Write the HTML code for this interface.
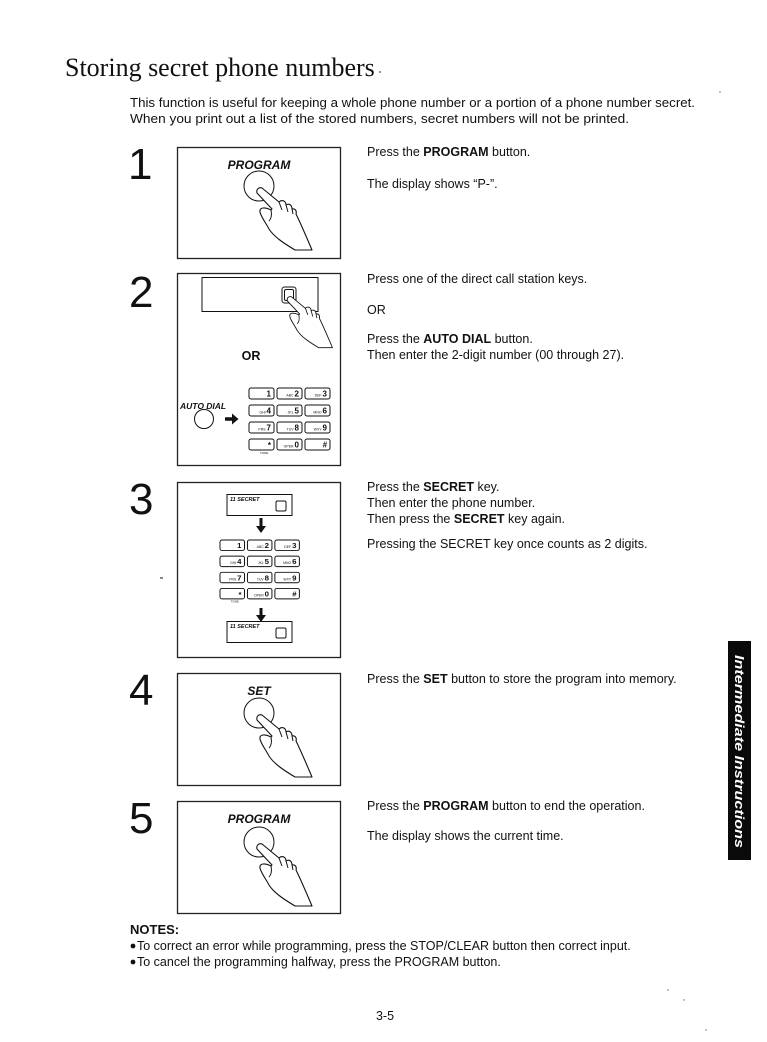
<!DOCTYPE html>
<html><head><meta charset="utf-8"><style>
html,body{margin:0;padding:0;background:#fff;}
svg{display:block;}
text{font-family:"Liberation Sans",Arial,sans-serif;fill:#111;}
.b{font-size:12.5px;}
.num{font-size:44px;}
.lbl{font-size:12px;font-weight:bold;font-style:italic;}
.k{fill:none;stroke:#111;stroke-width:1;}
.box{fill:none;stroke:#222;stroke-width:1.3;}
.hand{fill:#fff;stroke:#111;stroke-width:1.1;stroke-linejoin:round;}
.ln{fill:none;stroke:#111;stroke-width:1;}
.kt{font-size:8px;font-weight:bold;}
.ks{font-size:3.5px;}
</style></head><body>
<svg width="767" height="1042" viewBox="0 0 767 1042" xmlns="http://www.w3.org/2000/svg">
<rect width="767" height="1042" fill="#fff"/>

<!-- Title -->
<text x="65" y="76" style="font-family:'Liberation Serif',serif;font-size:26px;">Storing secret phone numbers</text>
<circle cx="380" cy="72" r="0.9" fill="#444"/>
<circle cx="720" cy="92" r="0.7" fill="#666"/>

<!-- Intro -->
<text class="b" x="130" y="107" textLength="565" lengthAdjust="spacingAndGlyphs" style="font-size:13px;">This function is useful for keeping a whole phone number or a portion of a phone number secret.</text>
<text class="b" x="130" y="123" textLength="499" lengthAdjust="spacingAndGlyphs" style="font-size:13px;">When you print out a list of the stored numbers, secret numbers will not be printed.</text>

<!-- Step numbers -->
<text class="num" x="128" y="179">1</text>
<text class="num" x="129" y="307">2</text>
<text class="num" x="129" y="514">3</text>
<text class="num" x="129" y="705">4</text>
<text class="num" x="129" y="833">5</text>

<!-- Box 1 -->
<rect class="box" x="177.5" y="147.5" width="163" height="111"/>
<text class="lbl" x="259" y="169" text-anchor="middle">PROGRAM</text>
<circle class="ln" cx="259" cy="186" r="15" stroke-width="1.2"/>
<g transform="translate(259,187)">
<path class="hand" d="M3,1 L20,15 C23,12 27,14 27,18 C30,16 33,18 33,22 C36,21 38,24 37,27 C42,37 47,49 53,63 L36,63 C26,57 15,50 10,42 C7,36 2,30 1,25 C0,20 6,20 12,23 L13,22 L-2,6 C-3,2 0,0 3,1 Z"/>
<path class="ln" d="M12,23 C13,28 12,32 10,34 M20,15 L23,23 M27,18 L29,25 M33,22 L34,27"/>
</g>

<!-- Box 2 -->
<rect class="box" x="177.5" y="273.5" width="163" height="192"/>
<rect class="ln" x="202" y="277.5" width="116" height="34" stroke-width="1.2"/>
<rect class="ln" x="282" y="287" width="14" height="16" rx="2.5" stroke-width="1.2"/>
<rect class="ln" x="284.5" y="289.5" width="9" height="11" rx="1.5" stroke-width="0.8"/>
<g transform="translate(289,296) scale(0.82)">
<path class="hand" d="M3,1 L20,15 C23,12 27,14 27,18 C30,16 33,18 33,22 C36,21 38,24 37,27 C42,37 47,49 53,63 L36,63 C26,57 15,50 10,42 C7,36 2,30 1,25 C0,20 6,20 12,23 L13,22 L-2,6 C-3,2 0,0 3,1 Z"/>
<path class="ln" d="M12,23 C13,28 12,32 10,34 M20,15 L23,23 M27,18 L29,25 M33,22 L34,27"/>
</g>
<text x="251" y="360" text-anchor="middle" style="font-size:12.5px;font-weight:bold;">OR</text>
<text x="180" y="409" style="font-size:8.5px;font-weight:bold;font-style:italic;">AUTO DIAL</text>
<circle class="ln" cx="204" cy="419" r="9.5" stroke-width="1.2"/>
<path d="M225,417.3 L232,417.3 L232,413.5 L238.5,419 L232,424.5 L232,420.7 L225,420.7 Z" fill="#111"/>
<g transform="translate(249,388)">
<rect class="k" x="0" y="0" width="25" height="11" rx="2"/>
<rect class="k" x="28" y="0" width="25" height="11" rx="2"/>
<rect class="k" x="56" y="0" width="25" height="11" rx="2"/>
<rect class="k" x="0" y="17" width="25" height="11" rx="2"/>
<rect class="k" x="28" y="17" width="25" height="11" rx="2"/>
<rect class="k" x="56" y="17" width="25" height="11" rx="2"/>
<rect class="k" x="0" y="34" width="25" height="11" rx="2"/>
<rect class="k" x="28" y="34" width="25" height="11" rx="2"/>
<rect class="k" x="56" y="34" width="25" height="11" rx="2"/>
<rect class="k" x="0" y="51" width="25" height="11" rx="2"/>
<rect class="k" x="28" y="51" width="25" height="11" rx="2"/>
<rect class="k" x="56" y="51" width="25" height="11" rx="2"/>
<text x="22" y="8.5" text-anchor="end" class="kt">1</text>
<text x="50" y="8.5" text-anchor="end"><tspan class="ks">ABC </tspan><tspan class="kt">2</tspan></text>
<text x="78" y="8.5" text-anchor="end"><tspan class="ks">DEF </tspan><tspan class="kt">3</tspan></text>
<text x="22" y="25.5" text-anchor="end"><tspan class="ks">GHI </tspan><tspan class="kt">4</tspan></text>
<text x="50" y="25.5" text-anchor="end"><tspan class="ks">JKL </tspan><tspan class="kt">5</tspan></text>
<text x="78" y="25.5" text-anchor="end"><tspan class="ks">MNO </tspan><tspan class="kt">6</tspan></text>
<text x="22" y="42.5" text-anchor="end"><tspan class="ks">PRS </tspan><tspan class="kt">7</tspan></text>
<text x="50" y="42.5" text-anchor="end"><tspan class="ks">TUV </tspan><tspan class="kt">8</tspan></text>
<text x="78" y="42.5" text-anchor="end"><tspan class="ks">WXY </tspan><tspan class="kt">9</tspan></text>
<text x="22" y="60" text-anchor="end" class="kt">*</text>
<text x="50" y="59.5" text-anchor="end"><tspan class="ks">OPER </tspan><tspan class="kt">0</tspan></text>
<text x="78" y="59.5" text-anchor="end" class="kt" font-style="italic">#</text>
<text x="11" y="66" style="font-size:3px;">TONE</text>
</g>

<!-- Box 3 -->
<rect class="box" x="177.5" y="482.5" width="163" height="175"/>
<rect class="ln" x="227" y="494.5" width="65" height="21" stroke-width="1.2"/>
<text x="230" y="501" style="font-size:5.5px;font-weight:bold;font-style:italic;">11  SECRET</text>
<rect class="ln" x="276" y="501" width="10" height="10" rx="1.5" stroke-width="1.2"/>
<path d="M259.5,518 L262.5,518 L262.5,526 L266,526 L261,533 L256,526 L259.5,526 Z" fill="#111"/>
<g transform="translate(220,540) scale(0.98,0.95)">
<rect class="k" x="0" y="0" width="25" height="11" rx="2"/>
<rect class="k" x="28" y="0" width="25" height="11" rx="2"/>
<rect class="k" x="56" y="0" width="25" height="11" rx="2"/>
<rect class="k" x="0" y="17" width="25" height="11" rx="2"/>
<rect class="k" x="28" y="17" width="25" height="11" rx="2"/>
<rect class="k" x="56" y="17" width="25" height="11" rx="2"/>
<rect class="k" x="0" y="34" width="25" height="11" rx="2"/>
<rect class="k" x="28" y="34" width="25" height="11" rx="2"/>
<rect class="k" x="56" y="34" width="25" height="11" rx="2"/>
<rect class="k" x="0" y="51" width="25" height="11" rx="2"/>
<rect class="k" x="28" y="51" width="25" height="11" rx="2"/>
<rect class="k" x="56" y="51" width="25" height="11" rx="2"/>
<text x="22" y="8.5" text-anchor="end" class="kt">1</text>
<text x="50" y="8.5" text-anchor="end"><tspan class="ks">ABC </tspan><tspan class="kt">2</tspan></text>
<text x="78" y="8.5" text-anchor="end"><tspan class="ks">DEF </tspan><tspan class="kt">3</tspan></text>
<text x="22" y="25.5" text-anchor="end"><tspan class="ks">GHI </tspan><tspan class="kt">4</tspan></text>
<text x="50" y="25.5" text-anchor="end"><tspan class="ks">JKL </tspan><tspan class="kt">5</tspan></text>
<text x="78" y="25.5" text-anchor="end"><tspan class="ks">MNO </tspan><tspan class="kt">6</tspan></text>
<text x="22" y="42.5" text-anchor="end"><tspan class="ks">PRS </tspan><tspan class="kt">7</tspan></text>
<text x="50" y="42.5" text-anchor="end"><tspan class="ks">TUV </tspan><tspan class="kt">8</tspan></text>
<text x="78" y="42.5" text-anchor="end"><tspan class="ks">WXY </tspan><tspan class="kt">9</tspan></text>
<text x="22" y="60" text-anchor="end" class="kt">*</text>
<text x="50" y="59.5" text-anchor="end"><tspan class="ks">OPER </tspan><tspan class="kt">0</tspan></text>
<text x="78" y="59.5" text-anchor="end" class="kt" font-style="italic">#</text>
<text x="11" y="66" style="font-size:3px;">TONE</text>
</g>
<path d="M259.5,608 L262.5,608 L262.5,615 L266,615 L261,622 L256,615 L259.5,615 Z" fill="#111"/>
<rect class="ln" x="227" y="621.5" width="65" height="21" stroke-width="1.2"/>
<text x="230" y="628" style="font-size:5.5px;font-weight:bold;font-style:italic;">11  SECRET</text>
<rect class="ln" x="276" y="628" width="10" height="10" rx="1.5" stroke-width="1.2"/>
<path class="ln" d="M160,578 L163,578" stroke="#888"/>

<!-- Box 4 -->
<rect class="box" x="177.5" y="673.5" width="163" height="112"/>
<text class="lbl" x="259" y="695" text-anchor="middle">SET</text>
<circle class="ln" cx="259" cy="713" r="15" stroke-width="1.2"/>
<g transform="translate(259,714)">
<path class="hand" d="M3,1 L20,15 C23,12 27,14 27,18 C30,16 33,18 33,22 C36,21 38,24 37,27 C42,37 47,49 53,63 L36,63 C26,57 15,50 10,42 C7,36 2,30 1,25 C0,20 6,20 12,23 L13,22 L-2,6 C-3,2 0,0 3,1 Z"/>
<path class="ln" d="M12,23 C13,28 12,32 10,34 M20,15 L23,23 M27,18 L29,25 M33,22 L34,27"/>
</g>

<!-- Box 5 -->
<rect class="box" x="177.5" y="801.5" width="163" height="112"/>
<text class="lbl" x="259" y="823" text-anchor="middle">PROGRAM</text>
<circle class="ln" cx="259" cy="842" r="15" stroke-width="1.2"/>
<g transform="translate(259,843)">
<path class="hand" d="M3,1 L20,15 C23,12 27,14 27,18 C30,16 33,18 33,22 C36,21 38,24 37,27 C42,37 47,49 53,63 L36,63 C26,57 15,50 10,42 C7,36 2,30 1,25 C0,20 6,20 12,23 L13,22 L-2,6 C-3,2 0,0 3,1 Z"/>
<path class="ln" d="M12,23 C13,28 12,32 10,34 M20,15 L23,23 M27,18 L29,25 M33,22 L34,27"/>
</g>

<!-- Right column text -->
<text class="b" x="367" y="156">Press the <tspan font-weight="bold">PROGRAM</tspan> button.</text>
<text class="b" x="367" y="188">The display shows “P-”.</text>

<text class="b" x="367" y="283">Press one of the direct call station keys.</text>
<text class="b" x="367" y="314">OR</text>
<text class="b" x="367" y="343">Press the <tspan font-weight="bold">AUTO DIAL</tspan> button.</text>
<text class="b" x="367" y="359">Then enter the 2-digit number (00 through 27).</text>

<text class="b" x="367" y="491">Press the <tspan font-weight="bold">SECRET</tspan> key.</text>
<text class="b" x="367" y="507">Then enter the phone number.</text>
<text class="b" x="367" y="523">Then press the <tspan font-weight="bold">SECRET</tspan> key again.</text>
<text class="b" x="367" y="548">Pressing the SECRET key once counts as 2 digits.</text>

<text class="b" x="367" y="683">Press the <tspan font-weight="bold">SET</tspan> button to store the program into memory.</text>

<text class="b" x="367" y="810">Press the <tspan font-weight="bold">PROGRAM</tspan> button to end the operation.</text>
<text class="b" x="367" y="840">The display shows the current time.</text>

<!-- Side tab -->
<rect x="728" y="641" width="23" height="219" fill="#0a0a0a"/>
<text transform="translate(735,655) rotate(90)" textLength="193" lengthAdjust="spacingAndGlyphs" style="font-size:13px;font-weight:bold;font-style:italic;fill:#fff;">Intermediate Instructions</text>

<!-- Notes -->
<text x="130" y="934" style="font-size:13px;font-weight:bold;">NOTES:</text>
<circle cx="133" cy="946" r="2.4" fill="#111"/>
<text class="b" x="137" y="950">To correct an error while programming, press the STOP/CLEAR button then correct input.</text>
<circle cx="133" cy="962" r="2.4" fill="#111"/>
<text class="b" x="137" y="966">To cancel the programming halfway, press the PROGRAM button.</text>

<text class="b" x="385" y="1020" text-anchor="middle">3-5</text>
<circle cx="668" cy="990" r="0.7" fill="#666"/>
<circle cx="684" cy="1000" r="0.7" fill="#666"/>
<circle cx="706" cy="1030" r="0.7" fill="#666"/>
</svg>
</body></html>
